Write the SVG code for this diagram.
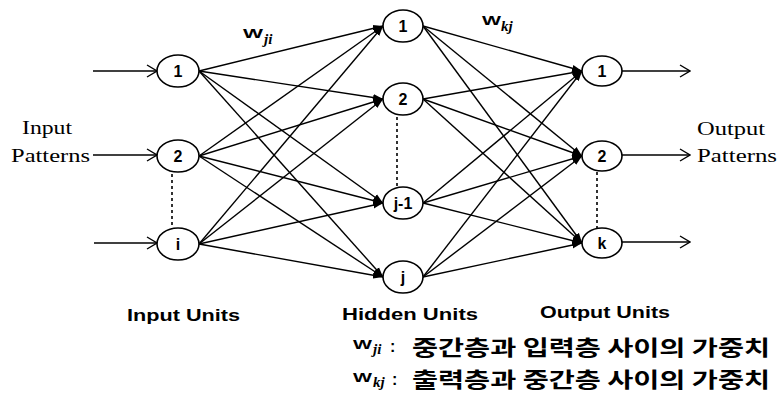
<svg xmlns="http://www.w3.org/2000/svg" width="778" height="394" viewBox="0 0 778 394">
<defs>
<style>
.n ellipse{fill:#fff;stroke:#000;stroke-width:1.6}
.n text{font-family:"Liberation Sans",Arial,sans-serif;font-weight:bold;font-size:16px;text-anchor:middle;fill:#000}
.e line{stroke:#000;stroke-width:1.4;marker-end:url(#fa)}
.io line{stroke:#000;stroke-width:1.4;marker-end:url(#oa)}
.dot{stroke:#000;stroke-width:1.6;stroke-dasharray:3,3}
.ser{font-family:"Liberation Serif","Times New Roman",serif;font-size:19px;fill:#000}
.lab{font-family:"Liberation Sans",Arial,sans-serif;font-weight:bold;font-size:16px;fill:#000}
.w{font-family:"Liberation Sans",Arial,sans-serif;font-weight:bold;font-size:13px;fill:#000}
.sub{font-family:"Liberation Serif","Times New Roman",serif;font-style:italic;font-weight:bold;font-size:15px;fill:#000}
.kr{font-family:"Noto Sans CJK KR",sans-serif;font-weight:bold;font-size:21px;fill:#000}
</style>
<marker id="fa" markerUnits="userSpaceOnUse" markerWidth="10" markerHeight="8" refX="10" refY="4" orient="auto">
<path d="M0,0.5 L10,4 L0,7.5 Z" fill="#000"/>
</marker>
<marker id="oa" markerUnits="userSpaceOnUse" markerWidth="12" markerHeight="14" refX="11" refY="7" orient="auto">
<path d="M1,1 L11,7 L1,13" fill="none" stroke="#000" stroke-width="1.4"/>
</marker>
</defs>
<rect width="778" height="394" fill="#fff"/>

<g id="connectors">
<g class="e">
<line x1="199" y1="71" x2="383" y2="26"/>
<line x1="199" y1="71" x2="383" y2="99"/>
<line x1="199" y1="71" x2="383" y2="203"/>
<line x1="199" y1="71" x2="383" y2="277"/>
<line x1="199" y1="156" x2="383" y2="26"/>
<line x1="199" y1="156" x2="383" y2="99"/>
<line x1="199" y1="156" x2="383" y2="203"/>
<line x1="199" y1="156" x2="383" y2="277"/>
<line x1="199" y1="244" x2="383" y2="26"/>
<line x1="199" y1="244" x2="383" y2="99"/>
<line x1="199" y1="244" x2="383" y2="203"/>
<line x1="199" y1="244" x2="383" y2="277"/>
<line x1="423" y1="26" x2="582" y2="71"/>
<line x1="423" y1="26" x2="582" y2="156"/>
<line x1="423" y1="26" x2="582" y2="243"/>
<line x1="423" y1="99" x2="582" y2="71"/>
<line x1="423" y1="99" x2="582" y2="156"/>
<line x1="423" y1="99" x2="582" y2="243"/>
<line x1="423" y1="203" x2="582" y2="71"/>
<line x1="423" y1="203" x2="582" y2="156"/>
<line x1="423" y1="203" x2="582" y2="243"/>
<line x1="423" y1="277" x2="582" y2="71"/>
<line x1="423" y1="277" x2="582" y2="156"/>
<line x1="423" y1="277" x2="582" y2="243"/>
</g>
<g class="io">
<line x1="93" y1="71" x2="157" y2="71"/>
<line x1="93" y1="155" x2="157" y2="155"/>
<line x1="94" y1="243" x2="157" y2="243"/>
<line x1="622" y1="71" x2="690" y2="71"/>
<line x1="622" y1="155" x2="690" y2="155"/>
<line x1="622" y1="242" x2="690" y2="242"/>
</g>
<line class="dot" x1="172" y1="174" x2="172" y2="229"/>
<line class="dot" x1="397" y1="117" x2="397" y2="187"/>
<line class="dot" x1="597" y1="172" x2="597" y2="228"/>
</g>

<g id="in1" class="n"><ellipse cx="178" cy="71" rx="21" ry="16"/><text x="178" y="77">1</text></g>
<g id="in2" class="n"><ellipse cx="178" cy="156" rx="21" ry="16"/><text x="178" y="162">2</text></g>
<g id="ini" class="n"><ellipse cx="178" cy="244" rx="21" ry="16"/><text x="178" y="250">i</text></g>

<g id="h1" class="n"><ellipse cx="403" cy="26" rx="20" ry="16"/><text x="403" y="32">1</text></g>
<g id="h2" class="n"><ellipse cx="403" cy="99" rx="20" ry="16"/><text x="403" y="105">2</text></g>
<g id="hj1" class="n"><ellipse cx="403" cy="203" rx="20" ry="16"/><text x="403" y="209">j-1</text></g>
<g id="hj" class="n"><ellipse cx="403" cy="277" rx="20" ry="16"/><text x="403" y="283">j</text></g>

<g id="o1" class="n"><ellipse cx="602" cy="71" rx="20" ry="15"/><text x="602" y="77">1</text></g>
<g id="o2" class="n"><ellipse cx="602" cy="156" rx="20" ry="15"/><text x="602" y="162">2</text></g>
<g id="ok" class="n"><ellipse cx="602" cy="243" rx="20" ry="15"/><text x="602" y="249">k</text></g>

<g id="labels">
<text class="ser" x="22" y="134" textLength="50" lengthAdjust="spacingAndGlyphs">Input</text>
<text class="ser" x="11" y="162" textLength="79" lengthAdjust="spacingAndGlyphs">Patterns</text>
<text class="ser" x="697" y="135" textLength="68" lengthAdjust="spacingAndGlyphs">Output</text>
<text class="ser" x="697" y="162" textLength="80" lengthAdjust="spacingAndGlyphs">Patterns</text>

<text class="w" x="243" y="38" textLength="20" lengthAdjust="spacingAndGlyphs">W</text>
<text class="sub" x="264" y="44">ji</text>
<text class="w" x="482" y="25" textLength="19" lengthAdjust="spacingAndGlyphs">W</text>
<text class="sub" x="501" y="31">kj</text>

<text class="lab" x="127" y="321" textLength="113" lengthAdjust="spacingAndGlyphs">Input Units</text>
<text class="lab" x="342" y="320" textLength="136" lengthAdjust="spacingAndGlyphs">Hidden Units</text>
<text class="lab" x="540" y="318" textLength="130" lengthAdjust="spacingAndGlyphs">Output Units</text>

<text class="w" x="353" y="349" textLength="19" lengthAdjust="spacingAndGlyphs">W</text>
<text class="sub" x="373" y="354">ji</text>
<text class="lab" x="390" y="352">:</text>
<text class="kr" x="412" y="355" textLength="358" lengthAdjust="spacingAndGlyphs">중간층과 입력층 사이의 가중치</text>

<text class="w" x="353" y="382" textLength="19" lengthAdjust="spacingAndGlyphs">W</text>
<text class="sub" x="373" y="387">kj</text>
<text class="lab" x="392" y="385">:</text>
<text class="kr" x="412" y="387" textLength="358" lengthAdjust="spacingAndGlyphs">출력층과 중간층 사이의 가중치</text>
</g>
</svg>
